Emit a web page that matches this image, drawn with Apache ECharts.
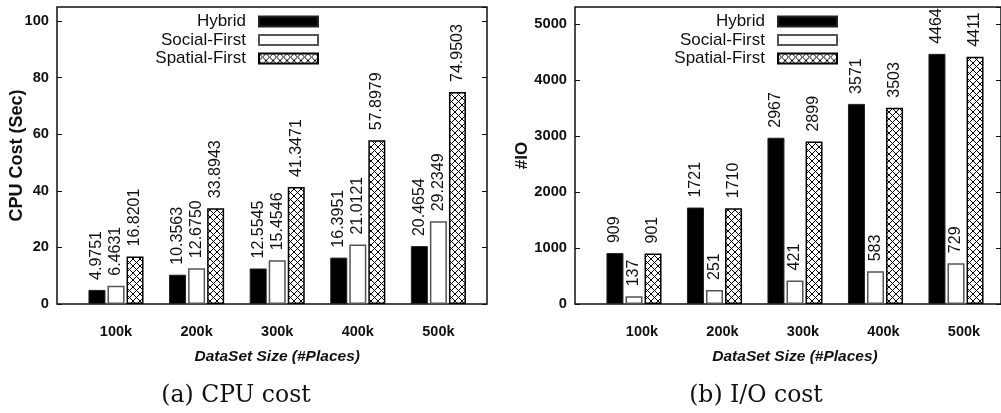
<!DOCTYPE html>
<html><head><meta charset="utf-8">
<script src="https://cdn.jsdelivr.net/npm/echarts@6/dist/echarts.min.js"></script>
<style>html,body{margin:0;padding:0;background:#fff}#c{width:1001px;height:413px}</style>
</head><body><div id="c"></div>
<script>
const categories = ['100k', '200k', '300k', '400k', '500k'];
const seriesNames = ['Hybrid', 'Social-First', 'Spatial-First'];
const cpuHybrid = [4.9751, 10.3563, 12.5545, 16.3951, 20.4654];
const cpuSocial = [6.4631, 12.6750, 15.4546, 21.0121, 29.2349];
const cpuSpatial = [16.8201, 33.8943, 41.3471, 57.8979, 74.9503];
const ioHybrid = [909, 1721, 2967, 3571, 4464];
const ioSocial = [137, 251, 421, 583, 729];
const ioSpatial = [901, 1710, 2899, 3503, 4411];
const cpuTicks = {min: 0, max: 105, interval: 20};
const ioTicks = {min: 0, max: 5300, interval: 1000};
const xName = 'DataSet Size (#Places)';
const cpuYName = 'CPU Cost (Sec)';
const ioYName = '#IO';
const captions = ['(a) CPU cost', '(b) I/O cost'];

const SANS = 'Liberation Sans';
function hatch() {
  const n = 7, c = document.createElement('canvas');
  c.width = n; c.height = n;
  const g = c.getContext('2d');
  g.fillStyle = '#fff'; g.fillRect(0, 0, n, n);
  g.strokeStyle = '#000'; g.lineWidth = 1;
  g.beginPath(); g.moveTo(0, 0); g.lineTo(n, n); g.moveTo(n, 0); g.lineTo(0, n); g.stroke();
  return c;
}
const hatchImg = hatch();
const styles = [
  {color: '#000', borderColor: '#222', borderWidth: 1},
  {color: '#fff', borderColor: '#555', borderWidth: 1.5},
  {color: {image: hatchImg, repeat: 'repeat'}, borderColor: '#000', borderWidth: 1.5}
];

const frames = [
  {left: 57, width: 430},
  {left: 575, width: 427}
];
const barGrids = [
  {left: 75.7, width: 403},
  {left: 593.75, width: 402.5}
];
const grid = [
  {left: frames[0].left, width: frames[0].width, top: 7, height: 297, show: true, borderColor: '#111', borderWidth: 1.5, backgroundColor: 'transparent'},
  {left: barGrids[0].left, width: barGrids[0].width, top: 7, height: 297},
  {left: frames[1].left, width: frames[1].width, top: 7, height: 297, show: true, borderColor: '#111', borderWidth: 1.5, backgroundColor: 'transparent'},
  {left: barGrids[1].left, width: barGrids[1].width, top: 7, height: 297}
];

function frameX(gi) { return {type: 'value', gridIndex: gi, show: false, min: 0, max: 1}; }
function catX(gi, shift) {
  return {type: 'category', gridIndex: gi, data: categories,
    axisLine: {show: false}, axisTick: {show: false},
    axisLabel: {fontFamily: SANS, fontWeight: 'bold', fontSize: 14.5, color: '#111', margin: 20, padding: [0, 0, 0, shift]},
    name: xName, nameLocation: 'middle', nameGap: 45, nameMoveOverlap: false,
    nameTextStyle: {fontFamily: SANS, fontWeight: 'bold', fontStyle: 'italic', fontSize: 15.5, color: '#111'}};
}
function frameY(gi, ticks, name, gap, pos, nameSize) {
  const o = {type: 'value', gridIndex: gi, position: pos, min: ticks.min, max: ticks.max, interval: ticks.interval,
    axisLine: {show: false}, splitLine: {show: false},
    axisTick: {show: true, inside: true, length: 5, lineStyle: {color: '#111', width: 1}},
    axisLabel: {show: pos === 'left', fontFamily: SANS, fontWeight: 'bold', fontSize: 14.7, color: '#111', margin: 8, padding: [10, 0, 0, 0],
      showMaxLabel: false, formatter: v => String(v)}};
  if (name) {
    o.name = name; o.nameLocation = 'middle'; o.nameGap = gap; o.nameMoveOverlap = false;
    o.nameTextStyle = {fontFamily: SANS, fontWeight: 'bold', fontSize: nameSize, color: '#111'};
  }
  return o;
}
function hiddenY(gi, ticks) { return {type: 'value', gridIndex: gi, show: false, min: ticks.min, max: ticks.max}; }

function mkSeries(data, idx, xi, yi, fmt) {
  return {type: 'bar', name: seriesNames[idx], xAxisIndex: xi, yAxisIndex: yi, data: data,
    barWidth: 17, barGap: '12%', itemStyle: styles[idx],
    label: {show: true, position: 'top', rotate: 90, align: 'left', verticalAlign: 'middle', distance: 10,
      fontFamily: SANS, fontSize: 16, color: '#111', formatter: fmt}};
}
const fmtCpu = p => p.value.toFixed(4);
const fmtIo = p => String(p.value);

const legendRows = [13, 31.5, 50];
const legendRights = [1001 - 319, 1001 - 838];
const legend = [];
for (let c = 0; c < 2; c++) {
  for (let i = 0; i < 3; i++) {
    legend.push({data: [{name: seriesNames[i], icon: 'rect'}], right: legendRights[c], top: legendRows[i], orient: 'vertical', align: 'right',
      padding: 0, itemWidth: 59, itemHeight: 10, selectedMode: false,
      textStyle: {fontFamily: SANS, fontSize: 17, color: '#111', padding: [0, 8, 0, 0]}});
  }
}

const capStyle = {fontFamily: 'DejaVu Serif', fontWeight: 'normal', fontSize: 23.5, color: '#111'};
const option = {
  animation: false,
  backgroundColor: '#fff',
  title: [
    {text: captions[0], left: 236, top: 384, textAlign: 'center', padding: 0, textStyle: capStyle},
    {text: captions[1], left: 756, top: 384, textAlign: 'center', padding: 0, textStyle: capStyle}
  ],
  legend: legend,
  grid: grid,
  xAxis: [frameX(0), catX(1, 0), frameX(2), catX(3, 16)],
  yAxis: [
    frameY(0, cpuTicks, cpuYName, 31, 'left', 18), frameY(0, cpuTicks, null, 0, 'right'), hiddenY(1, cpuTicks),
    frameY(2, ioTicks, ioYName, 44, 'left', 17), frameY(2, ioTicks, null, 0, 'right'), hiddenY(3, ioTicks)
  ],
  series: [
    mkSeries(cpuHybrid, 0, 1, 2, fmtCpu), mkSeries(cpuSocial, 1, 1, 2, fmtCpu), mkSeries(cpuSpatial, 2, 1, 2, fmtCpu),
    mkSeries(ioHybrid, 0, 3, 5, fmtIo), mkSeries(ioSocial, 1, 3, 5, fmtIo), mkSeries(ioSpatial, 2, 3, 5, fmtIo)
  ]
};
const chart = echarts.init(document.getElementById('c'), null, {renderer: 'canvas'});
chart.setOption(option);
</script>
</body></html>
